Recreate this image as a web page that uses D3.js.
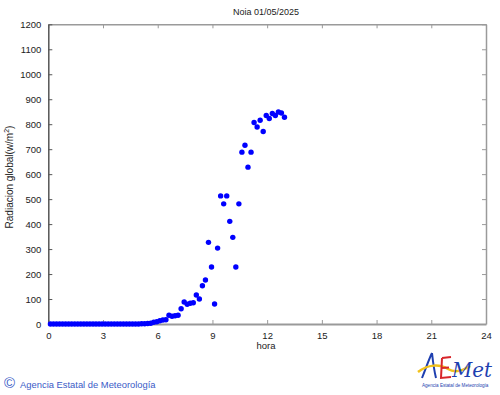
<!DOCTYPE html>
<html>
<head>
<meta charset="utf-8">
<script src="https://cdn.jsdelivr.net/npm/d3@7"></script>
<style>
  body { margin: 0; background: #fff; }
  svg { display: block; font-family: 'Liberation Sans', Arial, sans-serif; }
</style>
</head>
<body>
<div id="chart"></div>
<script>
// Station and date
const title = 'Noia 01/05/2025'

// Observation times (10 minute records)
const times = [
  '00:07', '00:17', '00:27', '00:37', '00:47', '00:57',
  '01:07', '01:17', '01:27', '01:37', '01:47', '01:57',
  '02:07', '02:17', '02:27', '02:37', '02:47', '02:57',
  '03:07', '03:17', '03:27', '03:37', '03:47', '03:57',
  '04:07', '04:17', '04:27', '04:37', '04:47', '04:57',
  '05:07', '05:17', '05:27', '05:37', '05:47', '05:57',
  '06:07', '06:17', '06:27', '06:37', '06:47', '06:57',
  '07:07', '07:17', '07:27', '07:37', '07:47', '07:57',
  '08:07', '08:17', '08:27', '08:37', '08:47', '08:57',
  '09:07', '09:17', '09:27', '09:37', '09:47', '09:57',
  '10:07', '10:17', '10:27', '10:37', '10:47', '10:57',
  '11:07', '11:17', '11:27', '11:37', '11:47', '11:57',
  '12:07', '12:17', '12:27', '12:37', '12:47', '12:57'
]

// Global radiation, w/m2
const radiation = [
  0, 0, 0, 0, 0, 0,
  0, 0, 0, 0, 0, 0,
  0, 0, 0, 0, 0, 0,
  0, 0, 0, 0, 0, 0,
  0, 0, 0, 0, 0, 0,
  1, 1, 2, 3, 7, 9,
  13, 16, 17, 35, 31, 33,
  35, 61, 88, 79, 83, 85,
  116, 100, 153, 176, 327, 228,
  80, 304, 513, 481, 513, 411,
  347, 228, 481, 688, 716, 628,
  688, 807, 789, 816, 771, 835,
  823, 843, 835, 849, 845, 828
]

const xTicks = [0, 3, 6, 9, 12, 15, 18, 21, 24]
const yTicks = [0, 100, 200, 300, 400, 500, 600, 700, 800, 900, 1000, 1100, 1200]

// Our canvas
const width = 500,
  height = 395,
  plotLeft = 48.3,
  plotRight = 486,
  plotTop = 24.3,
  plotBottom = 324

let svg = d3.select('#chart')
  .append('svg')
  .attr('width', width)
  .attr('height', height)

const xScale = d3.scaleLinear()
  .domain([0, 24])
  .range([plotLeft, plotRight])

const yScale = d3.scaleLinear()
  .domain([0, 1200])
  .range([plotBottom, plotTop])

const toHours = (t) => {
  let p = t.split(':')
  return +p[0] + (+p[1]) / 60
}

let dataset = times.map((t, i) => ({ h: toHours(t), v: radiation[i] }))

// axes, gnuplot style with inward ticks
const styleAxis = (g, col, w) => {
  g.select('.domain').attr('stroke', col).attr('stroke-width', w)
  g.selectAll('.tick line').attr('stroke', col).attr('stroke-width', 1)
  g.selectAll('.tick text').attr('fill', '#222').style('font-size', '9.5px')
    .style('font-family', "'Liberation Sans', Arial, sans-serif")
}

svg.append('g')
  .attr('transform', `translate(0, ${plotTop})`)
  .call(d3.axisTop(xScale).tickValues(xTicks).tickSizeInner(-4).tickSizeOuter(0).tickFormat(''))
  .call(g => styleAxis(g, '#9a9a9a', 1.5))

svg.append('g')
  .attr('transform', `translate(${plotRight}, 0)`)
  .call(d3.axisRight(yScale).tickValues(yTicks).tickSizeInner(-4).tickSizeOuter(0).tickFormat(''))
  .call(g => styleAxis(g, '#9a9a9a', 1.5))

svg.append('g')
  .attr('transform', `translate(0, ${plotBottom})`)
  .call(d3.axisBottom(xScale).tickValues(xTicks).tickSizeInner(-4).tickSizeOuter(0).tickPadding(8))
  .call(g => styleAxis(g, '#9a9a9a', 2))

svg.append('g')
  .attr('transform', `translate(${plotLeft}, 0)`)
  .call(d3.axisLeft(yScale).tickValues(yTicks).tickSizeInner(-4).tickSizeOuter(0).tickPadding(7)
    .tickFormat(d3.format('d')))
  .call(g => styleAxis(g, '#555', 1.5))

// points
svg.append('g')
  .selectAll('circle')
  .data(dataset)
  .enter()
  .append('circle')
  .attr('cx', d => xScale(d.h))
  .attr('cy', d => yScale(d.v))
  .attr('r', 2.7)
  .attr('fill', '#0000ff')

// texts
svg.append('text')
  .attr('x', 266)
  .attr('y', 15)
  .attr('text-anchor', 'middle')
  .style('font-size', '9px')
  .attr('fill', '#222')
  .text(title)

svg.append('text')
  .attr('x', 266)
  .attr('y', 349)
  .attr('text-anchor', 'middle')
  .style('font-size', '9.5px')
  .attr('fill', '#222')
  .text('hora')

let yl = svg.append('text')
  .attr('transform', 'translate(13, 177) rotate(-90)')
  .attr('text-anchor', 'middle')
  .style('font-size', '10px')
  .attr('fill', '#222')
yl.append('tspan').text('Radiacion global(w/m')
yl.append('tspan').attr('dy', -4).style('font-size', '7px').text('2')
yl.append('tspan').attr('dy', 4).text(')')

// footer
let foot = svg.append('text')
  .attr('x', 4)
  .attr('y', 388)
  .attr('fill', '#3a5bc7')
  .style('font-size', '9.4px')
foot.append('tspan').style('font-size', '15px').text('©')
foot.append('tspan').attr('dx', 5).text('Agencia Estatal de Meteorología')

// AEMET logo
let logo = svg.append('g').attr('transform', 'translate(418, 350)')
logo.append('path')
  .attr('d', 'M4,28 C8,18 11,9 14,3 M14,3 C15,12 16,20 18,28')
  .attr('fill', 'none').attr('stroke', '#1e3fb0').attr('stroke-width', 2)
logo.append('path')
  .attr('d', 'M0,22 C10,14 22,14 30,19 C38,24 46,20 52,16')
  .attr('fill', 'none').attr('stroke', '#f2c21b').attr('stroke-width', 2.5)
logo.append('path')
  .attr('d', 'M24,8 L33,7 M24,8 L23,28 L33,27 M23.5,18 L31,17.5')
  .attr('fill', 'none').attr('stroke', '#d8262b').attr('stroke-width', 2)
logo.append('text')
  .attr('x', 34)
  .attr('y', 27)
  .attr('fill', '#1e3fb0')
  .style('font-size', '21px')
  .style('font-style', 'italic')
  .style('font-family', "'DejaVu Serif', serif")
  .attr('textLength', 40)
  .attr('lengthAdjust', 'spacingAndGlyphs')
  .text('Met')
logo.append('text')
  .attr('x', 4)
  .attr('y', 37)
  .attr('fill', '#1e3fb0')
  .style('font-size', '4.6px')
  .text('Agencia Estatal de Meteorología')
</script>
</body>
</html>
